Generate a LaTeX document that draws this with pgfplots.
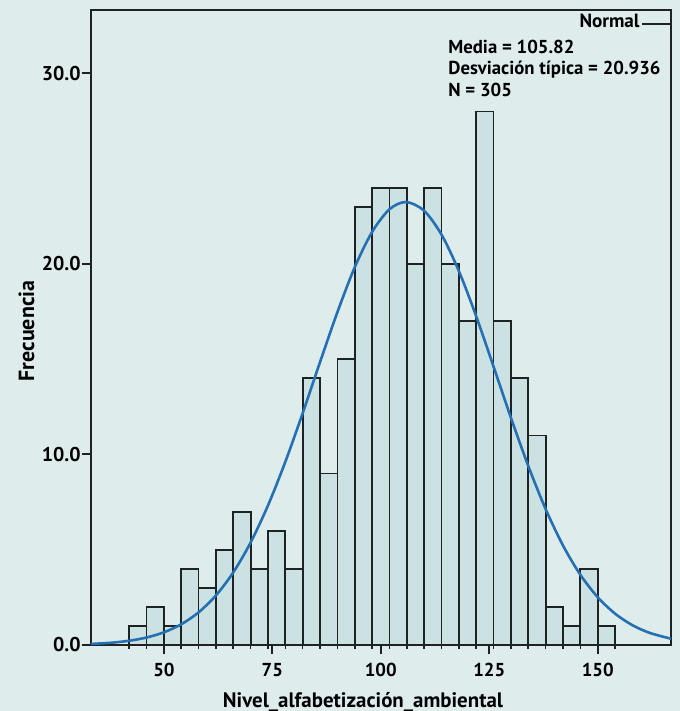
\documentclass[border=0pt]{standalone}
\usepackage{fontspec}
\setmainfont{PT Sans}
\usepackage{pgfplots}
\pgfplotsset{compat=1.18}

\definecolor{bg}{HTML}{DFECEC}
\definecolor{barfill}{HTML}{CCE2E2}
\definecolor{curve}{HTML}{2470B3}
\definecolor{axisline}{HTML}{1E2222}

% counts per bin of width 4, bin centres 44..152
\pgfplotstableread{
x   n
44  1
48  2
52  1
56  4
60  3
64  5
68  7
72  4
76  6
80  4
84  14
88  9
92  15
96  23
100 24
104 24
108 20
112 24
116 20
120 17
124 28
128 17
132 14
136 11
140 2
144 1
148 4
152 1
}\bins

\begin{document}
\begin{tikzpicture}
\useasboundingbox (-45.5bp,-33bp) rectangle (294.5bp,322.5bp);
\fill[bg] (-45.5bp,-33bp) rectangle (294.5bp,322.5bp);
\begin{axis}[
  at={(0,0)}, anchor=south west,
  scale only axis, width=290bp, height=317.5bp,
  xmin=33.2, xmax=166.9, ymin=0, ymax=33.33,
  axis line style={axisline, line width=1bp},
  xtick={50,75,100,125,150},
  ytick={0,10,20,30},
  tick align=outside, tick pos=left,
  major tick length=4.5bp,
  every tick/.style={axisline, line width=1bp},
  extra x ticks={42,46,...,154},
  extra x tick labels={},
  extra x tick style={major tick length=2bp, every tick/.style={axisline, line width=0.8bp}},
  /pgf/number format/assume math mode=true,
  x tick label style={font=\fontsize{9.4}{11}\selectfont\bfseries, yshift=-1bp},
  y tick label style={font=\fontsize{10}{12}\selectfont\bfseries, inner xsep=0.5bp,
    /pgf/number format/.cd, fixed, fixed zerofill, precision=1},
  clip=false,
]
\addplot[ybar, bar width=4, bar shift=0pt, fill=barfill, draw=axisline, line width=0.9bp] table[x=x, y=n] {\bins};
\addplot[curve, line width=1.3bp, smooth] coordinates {
  (33.2,0.055) (38,0.122) (42,0.223) (46,0.392) (50,0.665) (54,1.087)
  (58,1.712) (62,2.602) (66,3.811) (70,5.380) (74,7.326) (78,9.617)
  (82,12.17) (86,14.85) (90,17.47) (94,19.83) (98,21.68) (102,22.87)
  (105.82,23.25) (110,22.79) (114,21.54) (118,19.63) (122,17.25)
  (126,14.61) (130,11.93) (134,9.398) (138,7.135) (142,5.224)
  (146,3.688) (150,2.509) (154,1.646) (158,1.041) (162,0.635) (166.9,0.33)
};
\end{axis}
\node[anchor=base east, inner xsep=0pt, font=\fontsize{9.6}{11}\selectfont\bfseries] at (274.5bp,308.5bp) {Normal};
\draw[axisline, line width=0.8bp] (275.5bp,310.5bp) -- (290bp,310.5bp);
\node[anchor=base west, inner xsep=0pt, font=\fontsize{9.4}{11}\selectfont\bfseries] at (178.5bp,295.5bp) {Media = 105.82};
\node[anchor=base west, inner xsep=0pt, font=\fontsize{9.4}{11}\selectfont\bfseries] at (178.5bp,285bp) {Desviación típica = 20.936};
\node[anchor=base west, inner xsep=0pt, font=\fontsize{9.4}{11}\selectfont\bfseries] at (178.5bp,274bp) {N = 305};
\node[rotate=90, anchor=center, font=\fontsize{11}{13}\selectfont\bfseries] at (-32.2bp,157bp) {Frecuencia};
\node[anchor=base, font=\fontsize{10.5}{12}\selectfont\bfseries] at (136bp,-31bp) {Nivel\_alfabetización\_ambiental};
\end{tikzpicture}
\end{document}
